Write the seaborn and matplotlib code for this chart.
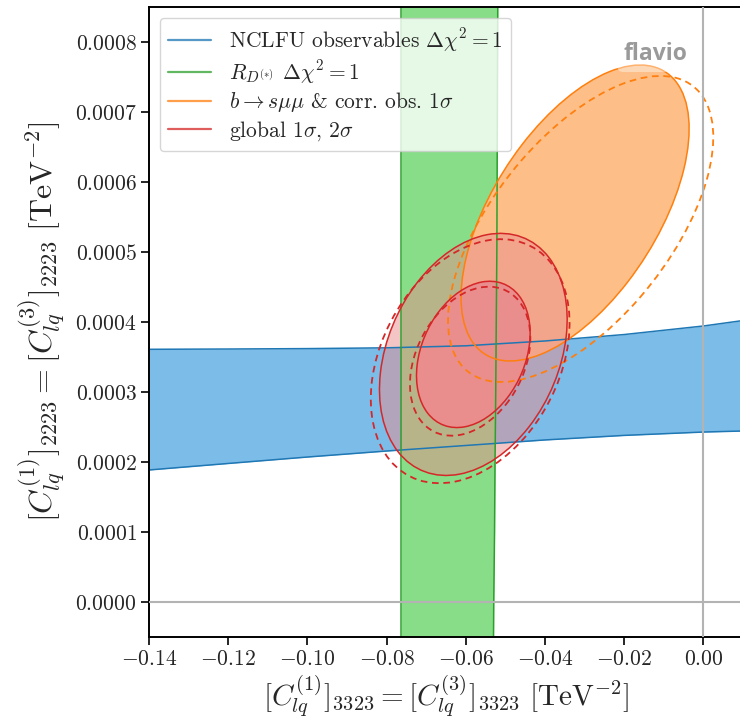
import numpy as np
import pandas as pd
import matplotlib
matplotlib.use("Agg")
import matplotlib.pyplot as plt
import seaborn as sns
from matplotlib.patches import Ellipse
from matplotlib.transforms import Affine2D
from matplotlib.lines import Line2D

# ---------------- data ----------------
# NCLFU observables band (Delta chi^2 = 1)
nclfu_x = [-0.14, -0.12, -0.10, -0.08, -0.06, -0.04, -0.02, 0.00, 0.01]
nclfu_upper = [3.610e-4, 3.614e-4, 3.620e-4, 3.631e-4, 3.660e-4, 3.729e-4, 3.821e-4, 3.943e-4, 4.021e-4]
nclfu_lower = [1.886e-4, 1.979e-4, 2.071e-4, 2.157e-4, 2.236e-4, 2.315e-4, 2.380e-4, 2.428e-4, 2.443e-4]

# R_D(*) band (Delta chi^2 = 1), vertical band
rd_y = [-0.00005, 0.0, 0.0001, 0.0002, 0.0003, 0.0004, 0.0005, 0.00085]
rd_left = [-0.0763, -0.0763, -0.0763, -0.0763, -0.0763, -0.0763, -0.0763, -0.0763]
rd_right = [-0.05300, -0.05294, -0.05274, -0.05262, -0.05244, -0.05231, -0.05216, -0.05193]

# b -> s mu mu 1 sigma regions: center, half-extent x, half-extent y, correlation
bsmm_center = (-0.0324, 5.557e-4)
bsmm_half = (0.0288, 2.114e-4)
bsmm_rho = 0.57
bsmm_dash_center = (-0.0310, 5.329e-4)
bsmm_dash_half = (0.0335, 2.186e-4)
bsmm_dash_rho = 0.60

# global fit 1 sigma / 2 sigma regions
glob_center = (-0.0581, 3.537e-4)
glob_half_1s = (0.01435, 1.045e-4)
glob_half_2s = (0.0237, 1.729e-4)
glob_rho = 0.29
glob_dash_center = (-0.0589, 3.44e-4)
glob_dash_half_1s = (0.0152, 1.064e-4)
glob_dash_half_2s = (0.0251, 1.743e-4)
glob_dash_rho = 0.31

x_ticks = [-0.14, -0.12, -0.10, -0.08, -0.06, -0.04, -0.02, 0.00]
y_ticks = [0.0, 0.0001, 0.0002, 0.0003, 0.0004, 0.0005, 0.0006, 0.0007, 0.0008]

legend_labels = [
    r"NCLFU observables $\Delta\chi^2=1$",
    r"$R_{D^{(*)}}$ $\Delta\chi^2=1$",
    r"$b\to s\mu\mu$ & corr. obs. $1\sigma$",
    r"global $1\sigma$, $2\sigma$",
]

# ---------------- style ----------------
sns.set_theme(style="ticks")
plt.rcParams["font.family"] = ["serif"]
plt.rcParams["font.serif"] = ["cmr10"]
plt.rcParams["mathtext.fontset"] = "cm"
plt.rcParams["axes.formatter.use_mathtext"] = True
plt.rcParams["axes.unicode_minus"] = True

C_BLUE, C_GREEN, C_ORANGE, C_RED = "#1f77b4", "#2ca02c", "#ff7f0e", "#d62728"
F_BLUE, F_GREEN, F_ORANGE, F_RED = "#7cbce8", "#88dd88", "#fdbf87", "#e98d8d"

fig = plt.figure(figsize=(7.40, 7.28), dpi=100)
ax = fig.add_axes([149 / 740, 91 / 728, 594 / 740, 630 / 728])


def corr_ellipse(ax, center, half, rho, **kw):
    e = Ellipse((0, 0), width=2 * np.sqrt(1 + rho), height=2 * np.sqrt(1 - rho), **kw)
    tr = Affine2D().rotate_deg(45).scale(half[0], half[1]).translate(center[0], center[1])
    e.set_transform(tr + ax.transData)
    ax.add_patch(e)
    return e


# NCLFU band
band = pd.DataFrame({"x": nclfu_x, "upper": nclfu_upper, "lower": nclfu_lower})
ax.fill_between(band["x"], band["lower"], band["upper"], color=F_BLUE, lw=0, zorder=1)
sns.lineplot(data=band, x="x", y="upper", color=C_BLUE, lw=1.1, ax=ax, zorder=2)
sns.lineplot(data=band, x="x", y="lower", color=C_BLUE, lw=1.1, ax=ax, zorder=2)

# R_D(*) band
rd = pd.DataFrame({"y": rd_y, "left": rd_left, "right": rd_right})
ax.fill_betweenx(rd["y"], rd["left"], rd["right"], color=F_GREEN, lw=0, zorder=1.05)
ax.plot(rd["left"], rd["y"], color=C_GREEN, lw=1.1, zorder=2)
ax.plot(rd["right"], rd["y"], color=C_GREEN, lw=1.1, zorder=2)

# b -> s mu mu
corr_ellipse(ax, bsmm_center, bsmm_half, bsmm_rho, facecolor=F_ORANGE, edgecolor="none", zorder=1.1)
corr_ellipse(ax, bsmm_center, bsmm_half, bsmm_rho, facecolor="none", edgecolor=C_ORANGE, lw=1.1, zorder=2)
corr_ellipse(ax, bsmm_dash_center, bsmm_dash_half, bsmm_dash_rho, facecolor="none",
             edgecolor=C_ORANGE, lw=1.3, ls=(0, (3.7, 2.6)), zorder=2)

# global fit
corr_ellipse(ax, glob_center, glob_half_2s, glob_rho, facecolor=F_RED, alpha=0.5, edgecolor="none", zorder=1.2)
corr_ellipse(ax, glob_center, glob_half_1s, glob_rho, facecolor=F_RED, edgecolor="none", zorder=1.3)
for h1, h2 in ((glob_half_1s, glob_dash_half_1s), (glob_half_2s, glob_dash_half_2s)):
    corr_ellipse(ax, glob_center, h1, glob_rho, facecolor="none", edgecolor=C_RED, lw=1.1, zorder=2)
    corr_ellipse(ax, glob_dash_center, h2, glob_dash_rho, facecolor="none",
                 edgecolor=C_RED, lw=1.3, ls=(0, (3.7, 2.6)), zorder=2)

# zero lines
ax.axvline(0, color="#b3b3b3", lw=1.5, zorder=3)
ax.axhline(0, color="#b3b3b3", lw=1.5, zorder=3)

ax.set_xlim(-0.14, 0.01)
ax.set_ylim(-0.00005, 0.00085)
ax.set_xticks(x_ticks)
ax.set_yticks(y_ticks)
ax.set_xticklabels([f"${t:.2f}$" for t in x_ticks])
ax.set_yticklabels([f"${t:.4f}$" for t in y_ticks])
ax.tick_params(labelsize=15.5, length=6, width=1.2, color="black", direction="out", pad=3)
for s in ax.spines.values():
    s.set_color("black")
    s.set_linewidth(1.4)

ax.set_xlabel(r"$[C_{lq}^{(1)}]_{3323} = [C_{lq}^{(3)}]_{3323}\ [\mathrm{TeV}^{-2}]$", fontsize=21, labelpad=3)
ax.set_ylabel(r"$[C_{lq}^{(1)}]_{2223} = [C_{lq}^{(3)}]_{2223}\ [\mathrm{TeV}^{-2}]$", fontsize=23, labelpad=6)

handles = [Line2D([], [], color=c, lw=1.6, alpha=0.75) for c in (C_BLUE, C_GREEN, C_ORANGE, C_RED)]
leg = ax.legend(handles, legend_labels, loc="upper left", fontsize=15.5, frameon=True, framealpha=0.8,
                labelspacing=0.2, borderpad=0.4)
leg.get_frame().set_edgecolor("#cccccc")
leg.set_zorder(5)

ax.text(0.852, 0.925, "flavio", transform=ax.transAxes, ha="center", va="center",
        fontsize=16.5, fontweight="bold", family=["Open Sans", "DejaVu Sans"], color="#9a9a9a",
        bbox=dict(facecolor="white", alpha=0.4, edgecolor="none", boxstyle="round,pad=0.25"), zorder=4)

fig.savefig("out.png", dpi=100)
